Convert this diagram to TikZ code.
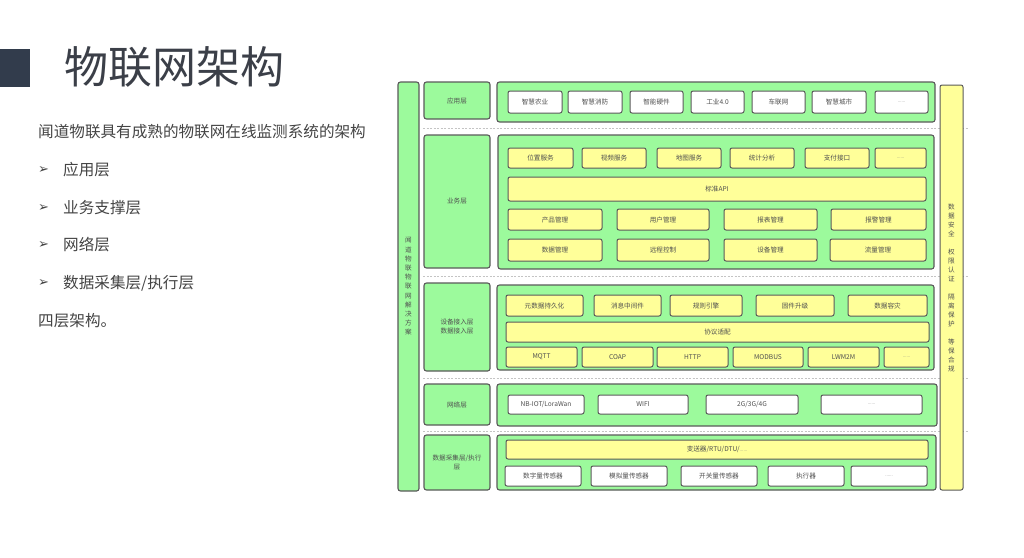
\documentclass[tikz,border=0pt]{standalone}
\usepackage{fontspec}
\setmainfont{Noto Sans CJK SC}
\newfontfamily\djv{DejaVu Sans}
\definecolor{gfill}{HTML}{9CFA9C}
\definecolor{yfill}{HTML}{FFFF99}
\definecolor{bdr}{HTML}{5A5A5A}
\definecolor{txt}{HTML}{505050}
\definecolor{titlec}{HTML}{3B3F48}
\definecolor{sq}{HTML}{323C4C}
\definecolor{body}{HTML}{444444}
\definecolor{sepc}{HTML}{C4C4C4}
\newcommand\mybox[7]{%
  \pgfmathsetmacro\bcx{(#3+#5)/2}\pgfmathsetmacro\bcy{(#4+#6)/2}%
  \pgfmathsetmacro\bw{#5-#3}\pgfmathsetmacro\bh{#6-#4}%
  \node[#1, minimum width=\bw pt, minimum height=\bh pt] (#2) at (\bcx,\bcy) {#7};}
\tikzset{
  base/.style={draw=bdr, rounded corners=2.5pt, line width=1.1pt, inner sep=0pt,
    text=txt, font=\fontsize{6.6}{9}\selectfont, align=center},
  gbox/.style={base, fill=gfill},
  ybox/.style={base, fill=yfill, line width=1pt, rounded corners=2pt},
  wbox/.style={base, fill=white, line width=1pt, rounded corners=2pt},
  sepline/.style={draw=sepc, dashed, dash pattern=on 2pt off 1.5pt, line width=0.9pt},
  bodytext/.style={anchor=west, text=body, font=\fontsize{15.6}{18}\selectfont, inner sep=0pt},
  bul/.style={anchor=west, text=body, font=\djv\bfseries\fontsize{13}{14}\selectfont, inner sep=0pt},
}
\newcommand\smalldots{\fontsize{4.5}{5}\selectfont\textcolor{gray}{......}}
\begin{document}
\begin{tikzpicture}[x=1pt,y=-1pt]
\useasboundingbox (0,0) rectangle (1024,557);
\fill[white] (0,0) rectangle (1024,557);

% title block
\fill[sq] (0,49) rectangle (30,87);
\node[anchor=west, text=titlec, font=\fontsize{44}{48}\selectfont, inner sep=0pt] (title) at (64,67) {物联网架构};

% left text
\node[bodytext] (intro) at (38,132) {闻道物联具有成熟的物联网在线监测系统的架构};
\node[bul] (b1) at (38,170) {➢};
\node[bodytext] (t1) at (63,170) {应用层};
\node[bul] (b2) at (38,208) {➢};
\node[bodytext] (t2) at (63,208) {业务支撑层};
\node[bul] (b3) at (38,245) {➢};
\node[bodytext] (t3) at (63,245) {网络层};
\node[bul] (b4) at (38,283) {➢};
\node[bodytext] (t4) at (63,283) {数据采集层/执行层};
\node[bodytext] (outro) at (38,321) {四层架构。};

% separators
\coordinate (s1a) at (423,128); \coordinate (s1b) at (968,128);
\coordinate (s2a) at (423,276); \coordinate (s2b) at (968,276);
\coordinate (s3a) at (423,378); \coordinate (s3b) at (968,378);
\coordinate (s4a) at (423,431); \coordinate (s4b) at (968,431);
\draw[sepline] (s1a) -- (s1b);
\draw[sepline] (s2a) -- (s2b);
\draw[sepline] (s3a) -- (s3b);
\draw[sepline] (s4a) -- (s4b);

% side bars
\mybox{gbox}{leftbar}{398}{82}{419}{491}{}
\node[text=txt, font=\fontsize{6.6}{9.2}\selectfont, align=center, inner sep=0pt] (lefttxt) at (leftbar.center)
  {闻\\道\\物\\联\\物\\联\\网\\解\\决\\方\\案};
\mybox{ybox}{rightbar}{940}{85}{963}{490}{}
\node[text=txt, font=\fontsize{6.6}{9}\selectfont, align=center, inner sep=0pt] (righttxt) at (rightbar.center)
  {数\\据\\安\\全\\[9pt]权\\限\\认\\证\\[9pt]隔\\离\\保\\护\\[9pt]等\\保\\合\\规};

% layer labels
\mybox{gbox}{L1}{424}{82}{490}{119}{应用层}
\mybox{gbox}{L2}{424}{135}{490}{268}{业务层}
\mybox{gbox}{L3}{424}{283}{490}{371}{设备接入层\\数据接入层}
\mybox{gbox}{L4}{424}{384}{490}{425}{网络层}
\mybox{gbox}{L5}{424}{435}{490}{490}{数据采集层/执行\\层}

% content panels
\mybox{gbox}{C1}{497}{82}{935}{122}{}
\mybox{gbox}{C2}{498}{135}{934}{269}{}
\mybox{gbox}{C3}{497}{285}{934}{370}{}
\mybox{gbox}{C4}{497}{384}{937}{426}{}
\mybox{gbox}{C5}{497}{435}{936}{490}{}

% application layer
\mybox{wbox}{a1}{508}{91}{562}{113}{智慧农业}
\mybox{wbox}{a2}{568}{91}{622}{113}{智慧消防}
\mybox{wbox}{a3}{630}{91}{683}{113}{智能硬件}
\mybox{wbox}{a4}{691}{91}{744}{113}{工业4.0}
\mybox{wbox}{a5}{752}{91}{805}{113}{车联网}
\mybox{wbox}{a6}{812}{91}{866}{113}{智慧城市}
\mybox{wbox}{a7}{875}{91}{928}{113}{\smalldots}

% business layer
\mybox{ybox}{p1}{508}{148}{573}{168}{位置服务}
\mybox{ybox}{p2}{582}{148}{646}{168}{视频服务}
\mybox{ybox}{p3}{657}{148}{721}{168}{地图服务}
\mybox{ybox}{p4}{730}{148}{794}{168}{统计分析}
\mybox{ybox}{p5}{805}{148}{869}{168}{支付接口}
\mybox{ybox}{p6}{875}{148}{926}{168}{\smalldots}
\mybox{ybox}{api}{508}{177}{926}{201}{标准API}
\mybox{ybox}{m1}{508}{209}{602}{230}{产品管理}
\mybox{ybox}{m2}{617}{209}{709}{230}{用户管理}
\mybox{ybox}{m3}{724}{209}{817}{230}{报表管理}
\mybox{ybox}{m4}{831}{209}{926}{230}{报警管理}
\mybox{ybox}{n1}{508}{239}{602}{261}{数据管理}
\mybox{ybox}{n2}{617}{239}{709}{261}{远程控制}
\mybox{ybox}{n3}{724}{239}{817}{261}{设备管理}
\mybox{ybox}{n4}{830}{239}{926}{261}{流量管理}

% device access layer
\mybox{ybox}{d1}{506}{295}{583}{316}{元数据持久化}
\mybox{ybox}{d2}{594}{295}{661}{316}{消息中间件}
\mybox{ybox}{d3}{670}{295}{742}{316}{规则引擎}
\mybox{ybox}{d4}{756}{295}{834}{316}{固件升级}
\mybox{ybox}{d5}{848}{295}{927}{316}{数据容灾}
\mybox{ybox}{proto}{506}{322}{929}{342}{协议适配}
\mybox{ybox}{q1}{506}{347}{577}{367}{MQTT}
\mybox{ybox}{q2}{582}{347}{653}{367}{COAP}
\mybox{ybox}{q3}{657}{347}{728}{367}{HTTP}
\mybox{ybox}{q4}{733}{347}{803}{367}{MODBUS}
\mybox{ybox}{q5}{808}{347}{879}{367}{LWM2M}
\mybox{ybox}{q6}{884}{347}{929}{367}{\smalldots}

% network layer
\mybox{wbox}{w1}{508}{395}{584}{414}{NB-IOT/LoraWan}
\mybox{wbox}{w2}{598}{395}{688}{414}{WIFI}
\mybox{wbox}{w3}{706}{395}{798}{414}{2G/3G/4G}
\mybox{wbox}{w4}{821}{395}{922}{414}{\smalldots}

% data acquisition layer
\mybox{ybox}{rtu}{506}{440}{928}{459}{变送器/RTU/DTU/\smalldots}
\mybox{wbox}{s1}{505}{466}{581}{486}{数字量传感器}
\mybox{wbox}{s2}{591}{466}{667}{486}{模拟量传感器}
\mybox{wbox}{s3}{681}{466}{757}{486}{开关量传感器}
\mybox{wbox}{s4}{768}{466}{844}{486}{执行器}
\mybox{wbox}{s5}{851}{466}{927}{486}{\smalldots}
\end{tikzpicture}
\end{document}
